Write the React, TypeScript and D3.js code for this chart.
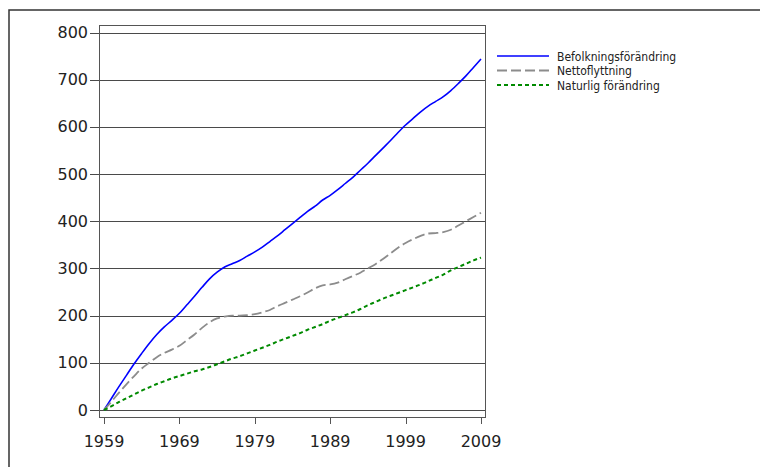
import * as React from 'react';
import * as d3 from 'd3';

// years 1959..2009, cumulative change (thousands)
const years: number[] = d3.range(1959, 2010);

const befolkning: number[] = [
  0, 25, 50, 74, 98, 120, 141, 160, 176, 190,
  205, 223, 241, 260, 278, 292, 303, 310, 317, 326,
  335, 345, 357, 369, 382, 395, 408, 421, 432, 445,
  455, 467, 480, 493, 508, 523, 539, 555, 571, 588,
  604, 618, 632, 644, 654, 664, 677, 692, 708, 726,
  744,
];

const netto: number[] = [
  0, 18, 37, 55, 72, 88, 100, 112, 121, 128,
  136, 148, 160, 174, 186, 194, 198, 200, 200, 201,
  203, 207, 212, 220, 227, 234, 241, 249, 258, 264,
  266, 270, 277, 284, 291, 300, 309, 320, 332, 344,
  354, 362, 369, 374, 375, 377, 382, 391, 400, 409,
  418,
];

const naturlig: number[] = [
  0, 8, 17, 25, 33, 41, 48, 55, 61, 67,
  72, 77, 82, 86, 91, 97, 103, 109, 114, 120,
  126, 132, 138, 145, 151, 157, 163, 170, 176, 182,
  189, 195, 201, 207, 214, 222, 229, 236, 242, 248,
  254, 260, 266, 273, 280, 287, 296, 303, 310, 317,
  323,
];

const seriesNames = ['Befolkningsförändring', 'Nettoflyttning', 'Naturlig förändring'];
const seriesColors = ['#0000ff', '#8c8c8c', '#008a00'];
const seriesDash = ['none', '10,4', '4,3'];
const seriesWidth = [1.6, 1.8, 2];

const yTicks = [0, 100, 200, 300, 400, 500, 600, 700, 800];
const xTicks = [1959, 1969, 1979, 1989, 1999, 2009];

export default function App() {
  const W = 760, H = 467;
  const frame = { left: 99, right: 485, top: 25, bottom: 417 };

  const x = d3.scaleLinear().domain([1959, 2009]).range([104, 481]);
  const y = d3.scaleLinear().domain([0, 800]).range([410, 32.5]);

  const all = [befolkning, netto, naturlig];
  const line = d3.line<number>()
    .x((_d, i) => x(years[i]))
    .y((d) => y(d))
    .curve(d3.curveMonotoneX);

  const font = '"DejaVu Sans", sans-serif';

  return (
    <svg width={W} height={H} style={{ position: 'absolute', left: 0, top: 0, background: '#fff' }}>
      <rect x={9} y={10} width={W} height={H} fill="#fff" stroke="#333" strokeWidth={1.5} />

      {yTicks.map((t) => (
        <g key={t}>
          <line x1={90} x2={frame.right} y1={Math.round(y(t)) + 0.5} y2={Math.round(y(t)) + 0.5}
            stroke="#4a4a4a" strokeWidth={1} />
          <text x={88} y={y(t) + 5.5} textAnchor="end" fontFamily={font} fontSize={16} fill="#222">{t}</text>
        </g>
      ))}

      <rect x={frame.left + 0.5} y={frame.top + 0.5} width={frame.right - frame.left} height={frame.bottom - frame.top}
        fill="none" stroke="#555" strokeWidth={1} />

      {xTicks.map((t) => (
        <g key={t}>
          <line x1={Math.round(x(t)) + 0.5} x2={Math.round(x(t)) + 0.5} y1={frame.bottom} y2={frame.bottom + 7}
            stroke="#555" strokeWidth={1} />
          <text x={x(t)} y={447} textAnchor="middle" fontFamily={font} fontSize={16} fill="#222">{t}</text>
        </g>
      ))}

      {all.map((s, i) => (
        <path key={i} d={line(s) || ''} fill="none" stroke={seriesColors[i]} strokeWidth={seriesWidth[i]}
          strokeDasharray={seriesDash[i]} />
      ))}

      {seriesNames.map((n, i) => (
        <g key={n}>
          <line x1={497} x2={549} y1={56 + i * 14.5} y2={56 + i * 14.5} stroke={seriesColors[i]}
            strokeWidth={seriesWidth[i]} strokeDasharray={seriesDash[i]} />
          <text x={557} y={60.5 + i * 14.5} fontFamily='"DejaVu Sans Condensed", "DejaVu Sans", sans-serif'
            fontSize={12} fill="#222">{n}</text>
        </g>
      ))}
    </svg>
  );
}
